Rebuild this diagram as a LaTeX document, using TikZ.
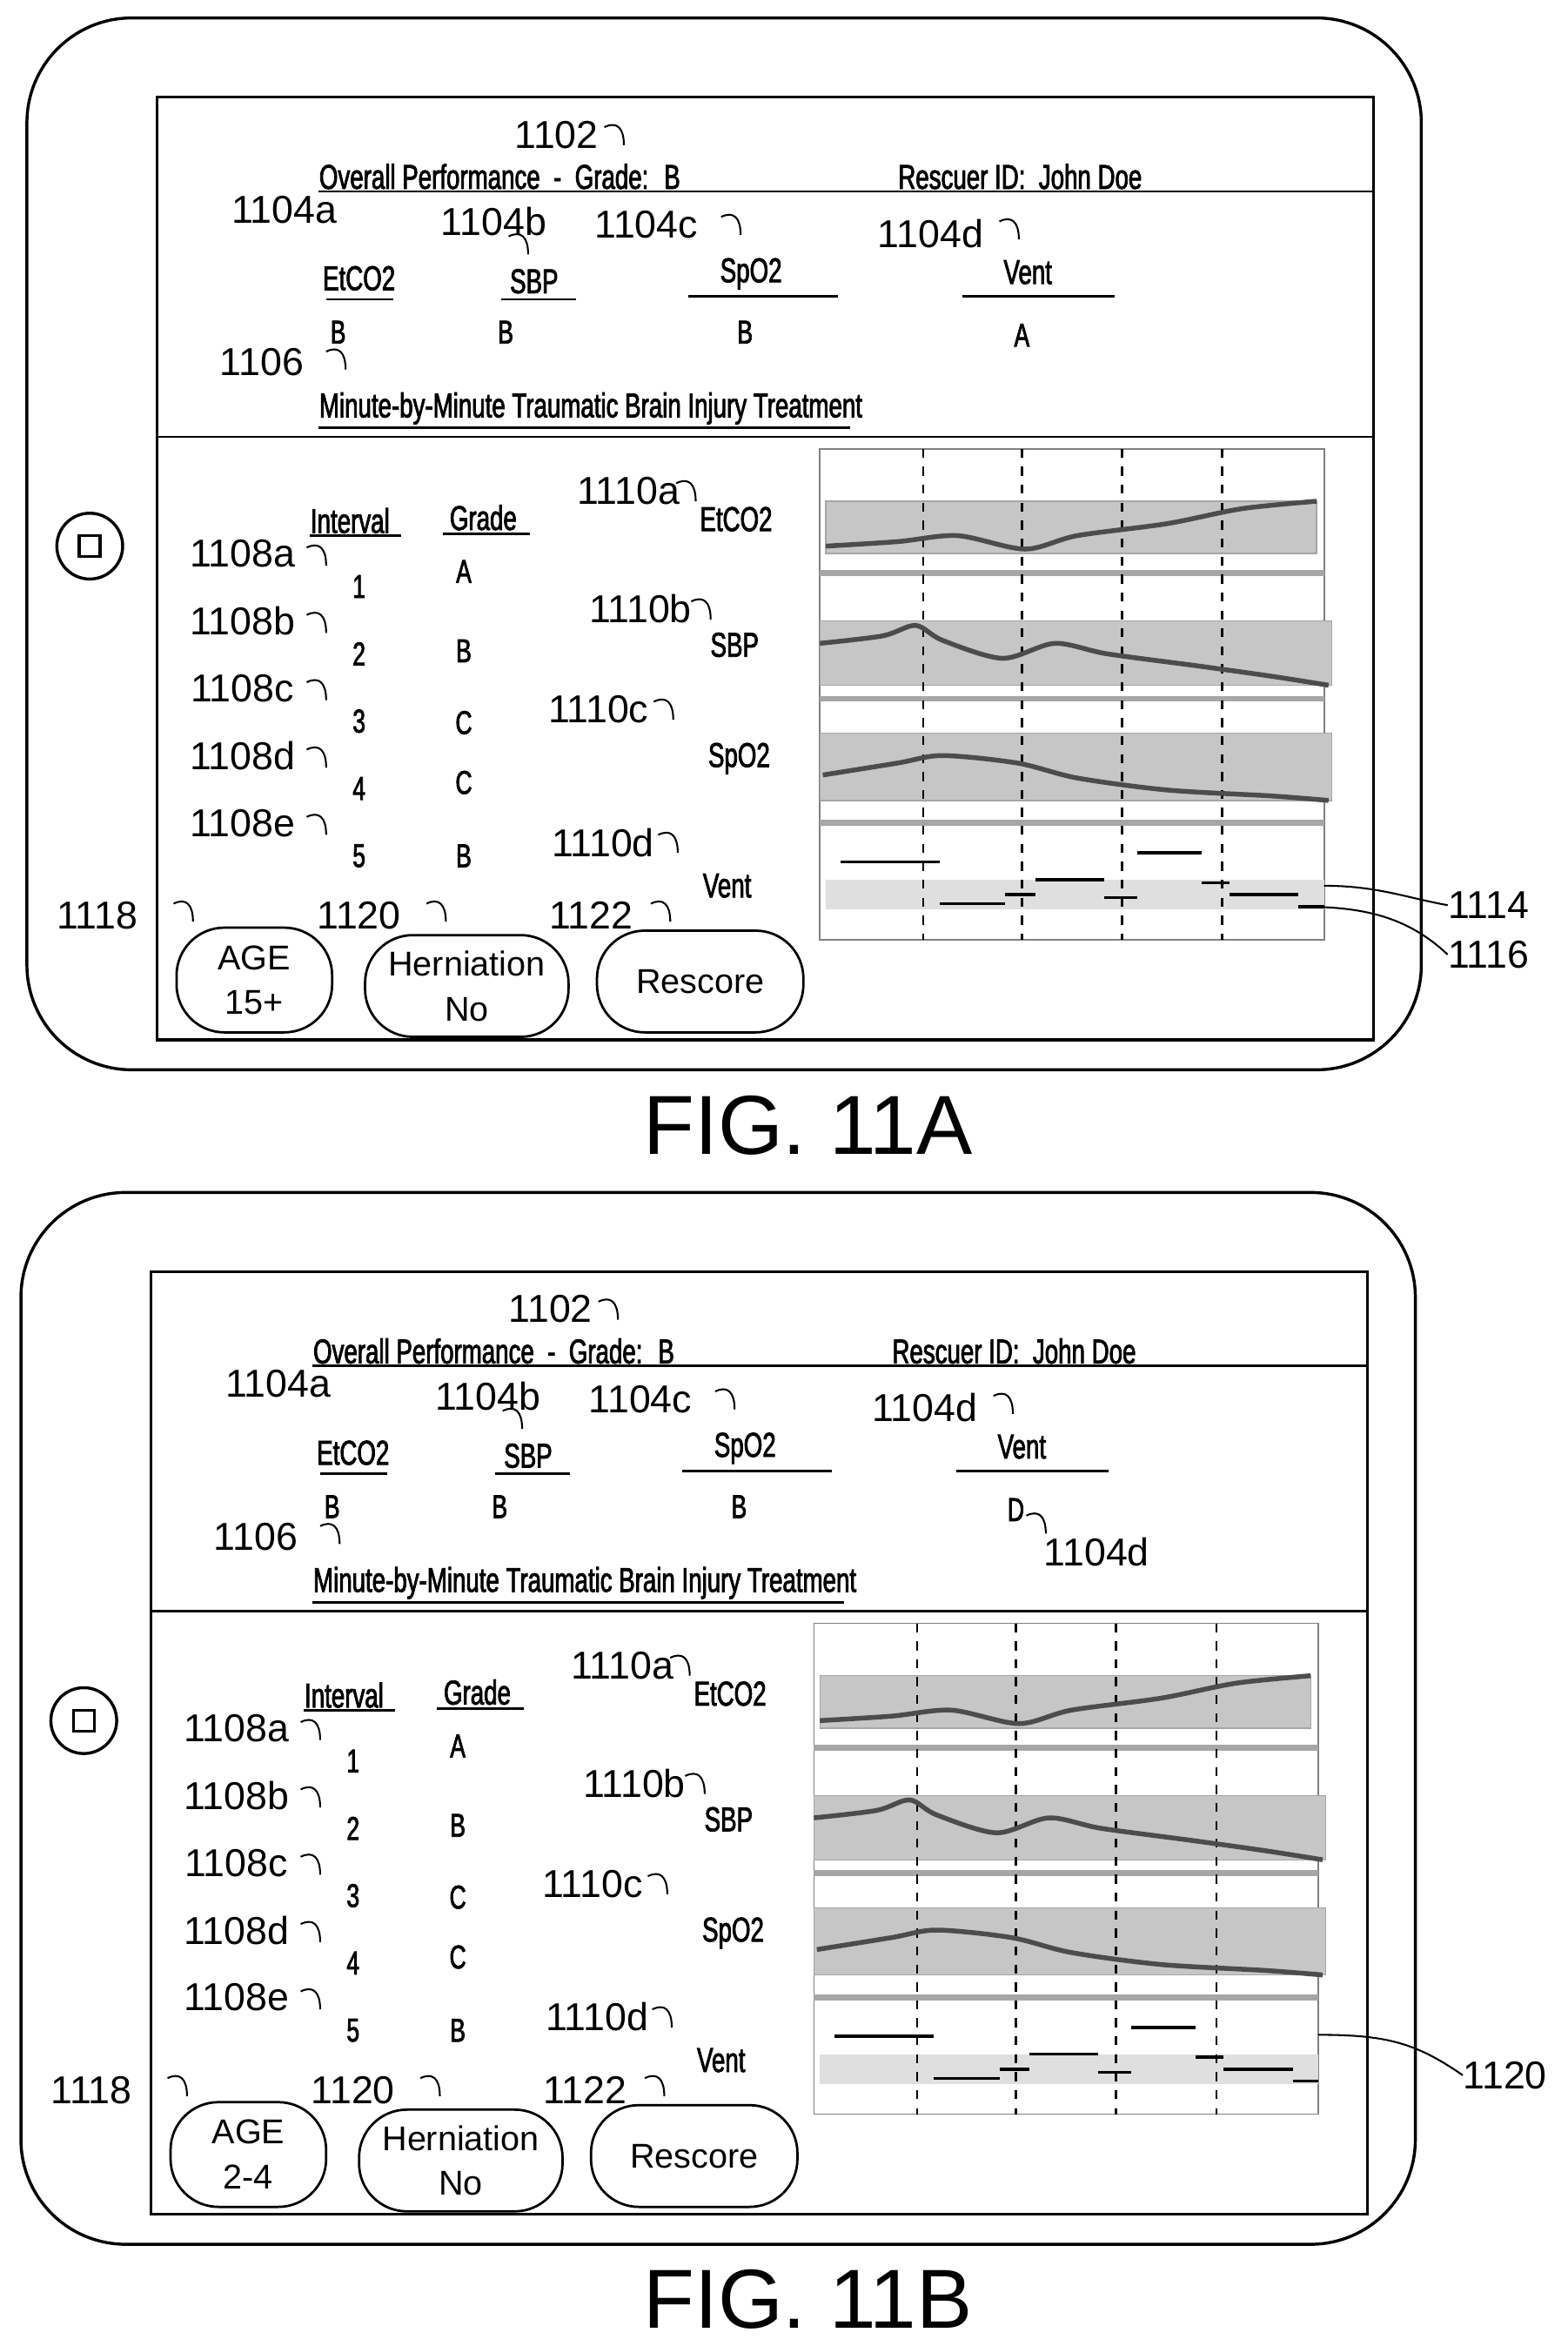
\documentclass[tikz,border=0pt]{standalone}
\usepackage{fontspec}
\setmainfont{Liberation Sans}
\newfontfamily\cond[FakeStretch=0.7,FakeBold=2]{Liberation Sans}
\begin{document}
\begin{tikzpicture}[x=0.5pt,y=-0.5pt,
  lbl/.style={font=\fontsize{13}{13}\selectfont,inner sep=0pt},
  cnd/.style={font=\cond\fontsize{11.5}{11.5}\selectfont,inner sep=0pt},
  gr/.style={font=\cond\fontsize{11}{11}\selectfont,inner sep=0pt},
  btn/.style={draw,line width=0.8pt,rounded corners=16pt,align=center,font=\fontsize{11.5}{15}\selectfont,inner sep=0pt},
  band/.style={fill=gray!45,draw=gray!70},
  curve/.style={line width=1.6pt,gray!60!black},
  base/.style={line width=2pt,gray!70},
  vs/.style={line width=0.8pt}]
\useasboundingbox (0,0) rectangle (1048,1568);
\newcommand{\hk}[2]{\draw[line width=0.6pt] (#1,#2) .. controls (#1+8,#2-4) and (#1+13,#2) .. (#1+13,#2+12);}
\newcommand{\mypanel}[2]{%
 \draw[line width=1pt,rounded corners=35pt] (18,12) rectangle (950,715);
 \draw[line width=1pt] (105,65) rectangle (918,695);
 \draw[line width=1pt] (60,365) circle (22);
 \draw[line width=1pt] (53,358) rectangle (67,372);
 \draw[line width=0.8pt] (213,128) -- (918,128);
 \draw[line width=0.8pt] (105,292) -- (918,292);
 \node[lbl] (n1102) at (372,90) {1102}; \hk{404}{85}
 \node[cnd,anchor=west] (op) at (213,118) {Overall Performance \ -\ \ Grade: \ B};
 \node[cnd,anchor=west] (rid) at (600,118) {Rescuer ID: \ John Doe};
 \node[lbl] (l1104a) at (190,140) {1104a};
 \node[lbl] (l1104b) at (330,148) {1104b}; \hk{340}{158}
 \node[lbl] (l1104c) at (432,150) {1104c}; \hk{482}{145}
 \node[lbl] (l1104d) at (622,156) {1104d}; \hk{668}{148}
 \node[cnd] (e1) at (240,186) {EtCO2}; \draw[vs] (218,200) -- (263,200);
 \node[cnd] (s1) at (357,188) {SBP}; \draw[vs] (335,200) -- (385,200);
 \node[cnd] (p1) at (502,183) {SpO2}; \draw[vs] (460,198) -- (560,198);
 \node[cnd] (v1) at (687,182) {Vent}; \draw[vs] (643,198) -- (745,198);
 \node[gr] at (226,222) {B}; \node[gr] at (338,222) {B}; \node[gr] at (498,222) {B}; \node[gr] (vg) at (683,224) {#1};
 \node[lbl] (l1106) at (175,242) {1106}; \hk{218}{235}
 \node[cnd,anchor=west] (mbm) at (213,273) {Minute-by-Minute Traumatic Brain Injury Treatment};
 \draw[vs] (213,286) -- (568,286);
 \node[cnd] (iv) at (234,348) {Interval}; \draw[vs] (207,358) -- (268,358);
 \node[cnd] (gd) at (323,346) {Grade}; \draw[vs] (296,357) -- (354,357);
 \foreach \i/\g/\yy/\gy/\ll in {1/A/392/382/a,2/B/437/435/b,3/C/482/483/c,4/C/527/523/d,5/B/572/572/e}{
   \node[gr] at (240,\yy) {\i}; \node[gr] at (310,\gy) {\g};
   \node[lbl] at (162,\yy-22) {1108\ll}; \hk{205}{\yy-26}}
 \node[lbl] at (420,328) {1110a}; \hk{452}{323} \node[cnd] at (492,347) {EtCO2};
 \node[lbl] at (428,407) {1110b}; \hk{462}{402} \node[cnd] at (491,431) {SBP};
 \node[lbl] at (400,474) {1110c}; \hk{437}{469} \node[cnd] at (494,507) {SpO2};
 \node[lbl] at (403,563) {1110d}; \hk{440}{558} \node[cnd] at (486,592) {Vent};
 \draw[line width=0.5pt,gray] (548,300) rectangle (885,628);
 \fill[band] (552,335) rectangle (880,370);
 \fill[band] (548,415) rectangle (890,458);
 \fill[band] (548,490) rectangle (890,535);
 \fill[gray!25] (552,588) rectangle (885,608);
 \draw[base] (548,383) -- (885,383); \draw[base] (548,467) -- (885,467); \draw[base] (548,550) -- (885,550);
 \foreach \xx in {617,683,750,817} \draw[dashed,line width=0.8pt] (\xx,300) -- (\xx,628);
 \draw[curve] plot[smooth] coordinates {(552,365)(600,362)(640,358)(685,367)(720,358)(780,350)(830,340)(880,335)};
 \draw[curve] plot[smooth] coordinates {(548,430)(590,425)(612,418)(630,428)(670,440)(705,430)(740,437)(800,445)(850,452)(888,458)};
 \draw[curve] plot[smooth] coordinates {(550,518)(600,510)(630,505)(680,510)(720,520)(780,528)(850,532)(888,535)};
 \foreach \a/\b/\yy in {562/628/576,628/672/604,672/692/598,692/738/588,738/760/600,760/803/570,803/822/590,822/868/598,868/885/606}
   \draw[line width=1pt] (\a,\yy) -- (\b,\yy);
 \node[btn,minimum width=52pt,minimum height=35pt] (age) at (170,655) {AGE\\#2};
 \node[btn,minimum width=68pt,minimum height=34pt] (hern) at (312,659) {Herniation\\No};
 \node[btn,minimum width=69pt,minimum height=34pt] (resc) at (468,656) {Rescore};
 \node[lbl] at (65,612) {1118}; \hk{116}{604}
 \node[lbl] at (240,612) {1120}; \hk{285}{604}
 \node[lbl] at (395,612) {1122}; \hk{435}{604}
}
\mypanel{A}{15+}
\node[lbl] (l1114) at (995,605) {1114};
\node[lbl] (l1116) at (995,638) {1116};
\draw[line width=0.6pt] (l1114.west) .. controls (940,600) and (920,592) .. (885,592);
\draw[line width=0.6pt] (l1116.west) .. controls (940,612) and (910,606) .. (870,606);
\node[font=\fontsize{28}{28}\selectfont] (f1) at (540,752) {FIG. 11A};
\begin{scope}[shift={(-4,785)}]
\mypanel{D}{2-4}
\node[lbl] (l1104d2) at (737,252) {1104d}; \hk{690}{228}
\node[lbl] (l1120r) at (1010,602) {1120};
\draw[line width=0.6pt] (l1120r.west) .. controls (950,580) and (930,575) .. (885,575);
\node[font=\fontsize{28}{28}\selectfont] (f2) at (544,752) {FIG. 11B};
\end{scope}
\end{tikzpicture}
\end{document}
